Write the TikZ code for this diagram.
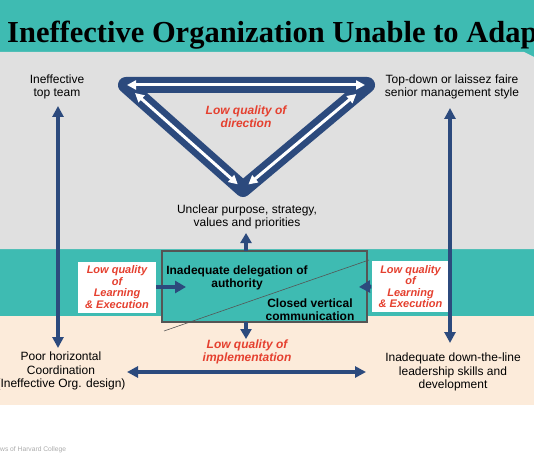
\documentclass[tikz,border=0pt]{standalone}
\usepackage{fontspec}
\setmainfont{Liberation Sans}
\newfontfamily\titlefont{Liberation Serif}
\usetikzlibrary{arrows.meta}
\definecolor{teal1}{HTML}{3EBBB2}
\definecolor{grey1}{HTML}{E0E0E0}
\definecolor{beige1}{HTML}{FCEBDA}
\definecolor{navy1}{HTML}{2C4A7D}
\definecolor{red1}{HTML}{E5402F}
\definecolor{boxline}{HTML}{555555}
\definecolor{foot}{HTML}{AAAAAA}
\tikzset{
  lbl/.style={font=\fontsize{12}{13.5}\selectfont, align=center, inner sep=0pt},
  redlbl/.style={font=\fontsize{12}{13}\selectfont\bfseries\itshape, text=red1, align=center, inner sep=0pt},
  learnbox/.style={fill=white, minimum width=78pt, minimum height=51pt, inner sep=0pt,
     font=\fontsize{11}{11.4}\selectfont\bfseries\itshape, text=red1, align=center},
  boldlbl/.style={font=\fontsize{12}{13}\selectfont\bfseries, align=center, inner sep=0pt},
  navyarr/.style={draw=navy1, line width=3.5pt, -{Triangle[length=11pt,width=11pt]}},
  navydbl/.style={draw=navy1, line width=3.5pt, {Triangle[length=11pt,width=11pt]}-{Triangle[length=11pt,width=11pt]}},
  fatarr/.style={draw=navy1, line width=4pt, -{Triangle[length=11pt,width=12pt]}},
  whitedbl/.style={draw=white, line width=3pt, {Triangle[length=9pt,width=9pt]}-{Triangle[length=9pt,width=9pt]}},
}
\begin{document}
\begin{tikzpicture}[x=1pt,y=-1pt]
\useasboundingbox (0,0) rectangle (534,462);
\clip (0,0) rectangle (534,462);
% backgrounds
\fill[teal1] (0,0) rectangle (534,316);
\fill[grey1] (0,52) -- (524,52) -- (534,57) -- (534,249) -- (0,249) -- cycle;
\fill[beige1] (0,316) rectangle (534,405);
% title
\node[anchor=base west, inner sep=0pt, font=\titlefont\fontsize{30.5}{31}\selectfont\bfseries] (title) at (7,43) {Ineffective Organization Unable to Adap};
% footer
\node[anchor=base west, inner sep=0pt, text=foot, font=\fontsize{6.7}{7}\selectfont] (footer) at (0,451) {ws of Harvard College};
% triangle
\coordinate (A) at (126,85);
\coordinate (B) at (367,85);
\coordinate (C) at (243,189);
\draw[navy1, line width=16pt, line join=round] (A) -- (B) -- (C) -- cycle;
\draw[whitedbl, shorten <=1pt, shorten >=2pt] (A) -- (B);
\draw[whitedbl, shorten <=12pt, shorten >=7pt] (A) -- (C);
\draw[whitedbl, shorten <=14pt, shorten >=7pt] (B) -- (C);
% labels
\node[lbl] (topteam) at (57,87) {Ineffective\\top team};
\node[lbl] (senior) at (452,87) {Top-down or laissez faire\\senior management style};
\node[redlbl] (direction) at (246,117) {Low quality of\\direction};
\node[lbl] (unclear) at (247,217) {Unclear purpose, strategy,\\values and priorities};
\node[lbl] (poor) at (61,371) {Poor horizontal\\Coordination\\(Ineffective Org. design)};
\node[lbl] (downline) at (453,372) {Inadequate down-the-line\\leadership skills and\\development};
\node[redlbl] (impl) at (247,352) {Low quality of\\implementation};
% central box
\node[draw=boxline, line width=1.5pt, fill=teal1, minimum width=205pt, minimum height=71pt, inner sep=0pt] (box) at (264.5,286.5) {};
\coordinate (d1) at (164,331);
\coordinate (d2) at (369,260);
\draw[boxline, line width=0.6pt] (d1) -- (d2);
\node[boldlbl] (deleg) at (237,278) {Inadequate delegation of\\authority};
\node[boldlbl] (closed) at (310,310) {Closed vertical\\communication};
% learning boxes
\node[learnbox] (learnL) at (117,287) {Low quality\\of\\Learning\\\& Execution};
\node[learnbox] (learnR) at (410.5,286.5) {Low quality\\of\\Learning\\\& Execution};
\coordinate (tipL) at (186,287);
\coordinate (tipR) at (359,287);
\draw[fatarr] (learnL.east) -- (tipL);
\draw[fatarr] (learnR.west) -- (tipR);
% box up / down arrows
\coordinate (upS) at (246,251);
\coordinate (upT) at (246,233);
\coordinate (dnS) at (246,322);
\coordinate (dnT) at (246,339);
\draw[fatarr, -{Triangle[length=10pt,width=11pt]}] (upS) -- (upT);
\draw[fatarr, -{Triangle[length=10pt,width=11pt]}] (dnS) -- (dnT);
% vertical double arrows
\coordinate (lv1) at (58,106);
\coordinate (lv2) at (58,348);
\coordinate (rv1) at (450,108);
\coordinate (rv2) at (450,343);
\draw[navydbl] (lv2) -- (lv1);
\draw[navydbl] (rv2) -- (rv1);
% horizontal double arrow
\coordinate (h1) at (127,372);
\coordinate (h2) at (366,372);
\draw[navydbl, line width=4pt] (h1) -- (h2);
\end{tikzpicture}
\end{document}
